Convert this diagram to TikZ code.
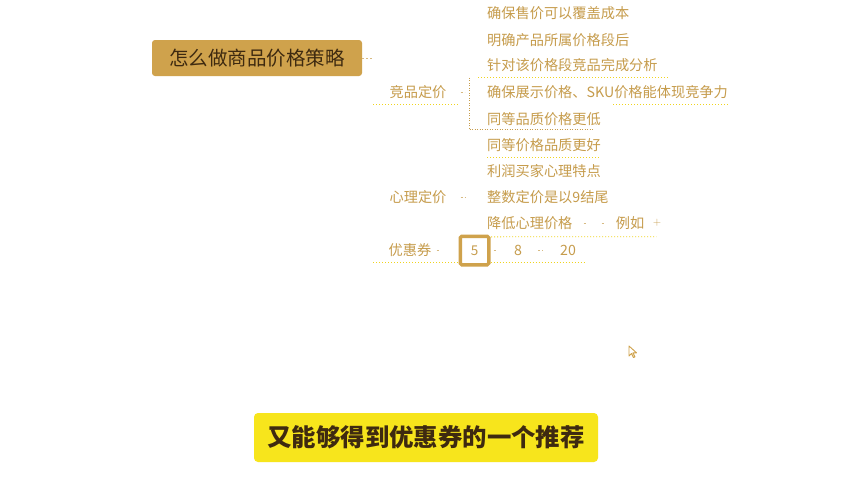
\documentclass[tikz,border=0pt]{standalone}
\usepackage{fontspec}
\newfontfamily\cjk{Noto Sans CJK SC}
\usetikzlibrary{positioning}
\definecolor{gold}{HTML}{CFA24C}
\definecolor{goldtxt}{HTML}{C69C4C}
\definecolor{dotyel}{HTML}{F0D41E}
\definecolor{capyel}{HTML}{F7E51C}
\definecolor{darkbrn}{HTML}{3E2A10}
\tikzset{
  rootbox/.style={fill=gold, rounded corners=3pt, minimum width=210pt, minimum height=36pt,
                  inner sep=0pt, text=darkbrn, font=\cjk\fontsize{19.5}{22}\selectfont},
  branch/.style={inner sep=0pt, text=goldtxt, font=\cjk\fontsize{14.2}{16}\selectfont},
  leaf/.style={branch, anchor=west},
  numbox/.style={draw=gold, line width=3.5pt, rounded corners=1.5pt, minimum size=28.5pt,
                 inner sep=0pt, text=goldtxt, font=\cjk\fontsize{13.5}{15}\selectfont},
  uline/.style={dotyel, line width=0.9pt, dash pattern=on 1pt off 2pt},
  bracket/.style={goldtxt, line width=0.8pt, dash pattern=on 1pt off 1.5pt},
  link/.style={goldtxt!70, line width=0.8pt, dash pattern=on 2pt off 2pt},
  caption/.style={fill=capyel, rounded corners=4pt, minimum width=344pt, minimum height=49pt,
                  inner sep=0pt, text=darkbrn, font=\cjk\bfseries\fontsize{24.4}{28}\selectfont},
}
\begin{document}
\begin{tikzpicture}[x=1pt, y=-1pt]
  \useasboundingbox (0,0) rectangle (852,480);
  \fill[white] (0,0) rectangle (852,480);

  % central topic
  \node[rootbox] (root) at (257,58) {怎么做商品价格策略};
  \draw[link] (root.east) -- ++(11,0) coordinate (rootend);

  % branch: competitor pricing
  \node[branch] (jp) at (418,92) {竞品定价};
  \node[leaf] (c1) at (487,13) {确保售价可以覆盖成本};
  \node[leaf] (c2) at (487,40) {明确产品所属价格段后};
  \node[leaf] (c3) at (487,65) {针对该价格段竞品完成分析};
  \node[leaf] (c4) at (487,92) {确保展示价格、SKU价格能体现竞争力};
  \node[leaf] (c5) at (487,119) {同等品质价格更低};
  \draw[uline] (373,104) -- (458,104);
  \draw[link] (jp.east) ++(14,0) -- ++(4,0);
  \draw[uline] ([xshift=-9pt,yshift=-6pt]c3.south west) -- ([xshift=10pt,yshift=-6pt]c3.south east);
  \draw[uline] (613,104) -- (c4.south east |- 0,104);
  \draw[bracket] ([xshift=-18pt,yshift=-6pt]c3.south west) -- ([xshift=-18pt,yshift=-4pt]c5.south west)
     -- ([xshift=-8pt,yshift=-4pt]c5.south east);

  % branch: psychological pricing
  \node[branch] (xl) at (418,197) {心理定价};
  \node[leaf] (p1) at (487,145) {同等价格品质更好};
  \node[leaf] (p2) at (487,171) {利润买家心理特点};
  \node[leaf] (p3) at (487,197) {整数定价是以9结尾};
  \node[leaf] (p4) at (487,223) {降低心理价格};
  \node[branch] (eg) at (630,223) {例如};
  \node[text=goldtxt, inner sep=0pt, font=\fontsize{11}{12}\selectfont] (plus) at (657,223) {+};
  \draw[link] (xl.east) ++(14,0) -- ++(5,0);
  \draw[link] (p4.east) ++(11,0) -- ++(3,0);
  \draw[link] (eg.west) ++(-14,0) -- ++(3,0);
  \draw[uline] ([xshift=-5pt,yshift=-7pt]p4.south west) -- ([xshift=12pt,yshift=-7pt]eg.south east);
  \draw[uline] ([yshift=-6pt]p1.south west) -- ([yshift=-6pt]p1.south east);

  % branch: coupons
  \node[branch] (yh) at (410,250) {优惠券};
  \node[numbox] (n5) at (474.5,250.5) {5};
  \node[branch] (n8) at (518,250) {8};
  \node[branch] (n20) at (568,250) {20};
  \draw[uline] (373,262) -- (n5.west |- 0,262);
  \draw[uline] (n5.east |- 0,262) -- (585,262);
  \draw[link] (yh.east) ++(5,0) -- ++(2,0);
  \draw[link] (n5.east) ++(3,0) -- ++(3,0);
  \draw[link] (n8) ++(20,0) -- ++(5,0);

  % mouse pointer
  \draw[gold, fill=white, line width=0.9pt, line join=round]
    (629,346) -- (629,356) -- (631.5,353.5) -- (633.5,357.5) -- (635,356.8) -- (633,352.8) -- (636.5,352.8) -- cycle;

  % subtitle
  \node[caption] (sub) at (426,437.5) {又能够得到优惠券的一个推荐};
\end{tikzpicture}
\end{document}
